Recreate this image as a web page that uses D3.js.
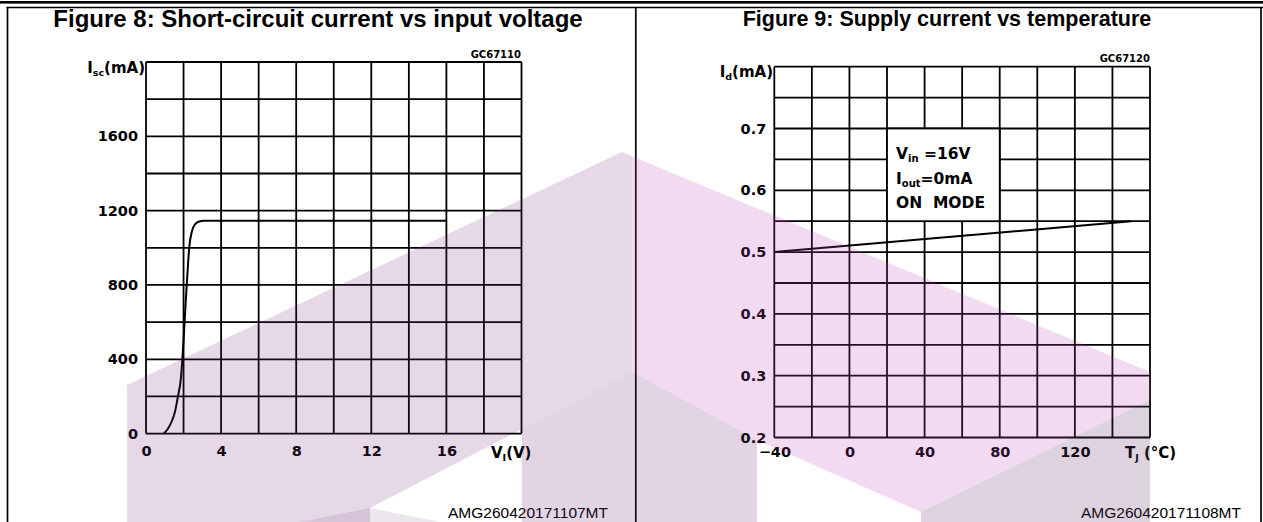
<!DOCTYPE html>
<html><head><meta charset="utf-8">
<script src="https://cdn.jsdelivr.net/npm/d3@7"></script>
<style>
html,body{margin:0;padding:0;background:#fff;}
svg{display:block;}
</style></head><body>
<svg id="c" width="1263" height="522"></svg>
<script>
// ---------- data ----------
const fig8Title = "Figure 8: Short-circuit current vs input voltage";
const fig9Title = "Figure 9: Supply current vs temperature";
const fig8Code = "GC67110";
const fig9Code = "GC67120";
const fig8Ref = "AMG260420171107MT";
const fig9Ref = "AMG260420171108MT";
const fig8XTicks = [0, 4, 8, 12, 16];
const fig8YTicks = [0, 400, 800, 1200, 1600];
const fig8Voltage = [0.95, 1.3, 1.55, 1.7, 1.85, 2.0, 2.12, 2.2, 2.3, 2.45, 2.6, 2.8, 3.1, 16];
const fig8Current = [0, 50, 120, 200, 290, 500, 718, 850, 1000, 1090, 1125, 1140, 1145, 1145];
const fig9XTicks = [-40, 0, 40, 80, 120];
const fig9YTicks = [0.2, 0.3, 0.4, 0.5, 0.6, 0.7];
const fig9Temp = [-40, 150];
const fig9Current = [0.5, 0.55];
const fig9Notes = ["Vin =16V", "Iout=0mA", "ON  MODE"];

const svg = d3.select("#c");
const INK = "#000";
const TICKFONT = "'DejaVu Sans', sans-serif";
const TICKSIZE = 14.5;

function subLabel(sel, main, sub, rest, subSize) {
  sel.append("tspan").text(main);
  sel.append("tspan").attr("font-size", subSize).attr("dy", 3).text(sub);
  sel.append("tspan").attr("dy", -3).text(rest);
}

function chart(cfg) {
  const g = svg.append("g");
  const x = d3.scaleLinear().domain(cfg.xDomain).range([cfg.x0, cfg.x1]);
  const y = d3.scaleLinear().domain(cfg.yDomain).range([cfg.y1, cfg.y0]);
  const gx = d3.range(cfg.xDomain[0], cfg.xDomain[1] + cfg.xStep / 2, cfg.xStep);
  const gy = d3.range(cfg.yDomain[0], cfg.yDomain[1] + cfg.yStep / 2, cfg.yStep);
  g.selectAll(".vx").data(gx).join("line")
    .attr("x1", d => x(d)).attr("x2", d => x(d))
    .attr("y1", y(cfg.yDomain[0])).attr("y2", y(cfg.yDomain[1]))
    .attr("stroke", INK).attr("stroke-width", 1.8);
  g.selectAll(".hy").data(gy).join("line")
    .attr("y1", d => y(d)).attr("y2", d => y(d))
    .attr("x1", x(cfg.xDomain[0])).attr("x2", x(cfg.xDomain[1]))
    .attr("stroke", INK).attr("stroke-width", 1.8);
  const yAxis = d3.axisLeft(y).tickValues(cfg.yTicks).tickSize(0).tickPadding(cfg.yPad)
    .tickFormat(cfg.yFmt);
  const ya = g.append("g").attr("transform", `translate(${cfg.x0},0)`).call(yAxis);
  ya.select(".domain").remove();
  ya.selectAll("text").attr("font-family", TICKFONT).attr("font-weight", "bold")
    .attr("font-size", TICKSIZE).attr("fill", INK);
  const xAxis = d3.axisBottom(x).tickValues(cfg.xTicks).tickSize(0).tickPadding(cfg.xPad)
    .tickFormat(cfg.xFmt);
  const xa = g.append("g").attr("transform", `translate(0,${cfg.y1})`).call(xAxis);
  xa.select(".domain").remove();
  xa.selectAll("text").attr("font-family", TICKFONT).attr("font-weight", "bold")
    .attr("font-size", TICKSIZE).attr("fill", INK);
  return {g, x, y};
}

// ---------- Figure 8 ----------
const c8 = chart({
  xDomain: [0, 20], yDomain: [0, 2000], xStep: 2, yStep: 200,
  x0: 146, x1: 521.5, y0: 62, y1: 433.6,
  xTicks: fig8XTicks, yTicks: fig8YTicks, yFmt: d3.format("d"), xFmt: d3.format("d"),
  xPad: 12, yPad: 8
});
const line8 = d3.line().x((d, i) => c8.x(fig8Voltage[i])).y(d => c8.y(d)).curve(d3.curveMonotoneX);
c8.g.append("path").attr("d", line8(fig8Current)).attr("fill", "none")
  .attr("stroke", INK).attr("stroke-width", 2);

// ---------- Figure 9 ----------
const c9 = chart({
  xDomain: [-40, 160], yDomain: [0.2, 0.8], xStep: 20, yStep: 0.05,
  x0: 774.3, x1: 1150, y0: 66.7, y1: 437.5,
  xTicks: fig9XTicks, yTicks: fig9YTicks, yFmt: d3.format(".1f"),
  xFmt: d => d < 0 ? "\u2212" + Math.abs(d) : d, xPad: 9, yPad: 8
});
c9.g.append("rect")
  .attr("x", c9.x(20)).attr("y", c9.y(0.7))
  .attr("width", c9.x(80) - c9.x(20)).attr("height", c9.y(0.55) - c9.y(0.7))
  .attr("fill", "#fff").attr("stroke", INK).attr("stroke-width", 1.8);
const noteG = c9.g.append("g").attr("font-family", TICKFONT).attr("font-weight", "bold")
  .attr("font-size", 15.5).attr("fill", INK);
const n1 = noteG.append("text").attr("x", c9.x(20) + 9).attr("y", 159);
subLabel(n1, "V", "in", " =16V", 10);
const n2 = noteG.append("text").attr("x", c9.x(20) + 9).attr("y", 184);
subLabel(n2, "I", "out", "=0mA", 10);
noteG.append("text").attr("x", c9.x(20) + 9).attr("y", 208).attr("xml:space", "preserve").text(fig9Notes[2]);

const line9 = d3.line().x((d, i) => c9.x(fig9Temp[i])).y(d => c9.y(d));
c9.g.append("path").attr("d", line9(fig9Current)).attr("fill", "none")
  .attr("stroke", INK).attr("stroke-width", 2);

// axis titles
const at = svg.append("g").attr("font-family", TICKFONT).attr("font-weight", "bold")
  .attr("font-size", 15).attr("fill", INK);
const t1 = at.append("text").attr("x", 145).attr("y", 73).attr("text-anchor", "end");
subLabel(t1, "I", "sc", "(mA)", 9.5);
const t2 = at.append("text").attr("x", 773).attr("y", 77).attr("text-anchor", "end");
subLabel(t2, "I", "d", "(mA)", 9.5);
const t3 = at.append("text").attr("x", 491).attr("y", 458);
subLabel(t3, "V", "I", "(V)", 9.5);
const t4 = at.append("text").attr("x", 1125).attr("y", 458).attr("xml:space", "preserve");
subLabel(t4, "T", "J", " (°C)", 9.5);

// codes
svg.append("text").attr("x", 521).attr("y", 58).attr("text-anchor", "end")
  .attr("font-family", TICKFONT).attr("font-weight", "bold").attr("font-size", 10).text(fig8Code);
svg.append("text").attr("x", 1150).attr("y", 62).attr("text-anchor", "end")
  .attr("font-family", TICKFONT).attr("font-weight", "bold").attr("font-size", 10).text(fig9Code);

// titles
svg.append("text").attr("x", 318).attr("y", 27).attr("text-anchor", "middle")
  .attr("font-family", "'Liberation Sans', Arial, sans-serif").attr("font-weight", "bold")
  .attr("font-size", 24).text(fig8Title);
svg.append("text").attr("x", 947).attr("y", 26).attr("text-anchor", "middle")
  .attr("font-family", "'Liberation Sans', Arial, sans-serif").attr("font-weight", "bold")
  .attr("font-size", 21.5).text(fig9Title);
// refs
svg.append("text").attr("x", 608).attr("y", 518).attr("text-anchor", "end")
  .attr("font-family", "'Liberation Sans', Arial, sans-serif").attr("font-size", 15.5).text(fig8Ref);
svg.append("text").attr("x", 1241).attr("y", 518).attr("text-anchor", "end")
  .attr("font-family", "'Liberation Sans', Arial, sans-serif").attr("font-size", 15.5).text(fig9Ref);

// frame
svg.append("rect").attr("x", 0).attr("y", 1).attr("width", 1263).attr("height", 2.6).attr("fill", INK);
svg.append("line").attr("x1", 6.5).attr("x2", 1263).attr("y1", 7.5).attr("y2", 7.5).attr("stroke", INK).attr("stroke-width", 1.7);
svg.append("line").attr("x1", 7.5).attr("x2", 7.5).attr("y1", 7).attr("y2", 522).attr("stroke", INK).attr("stroke-width", 1.7);
svg.append("line").attr("x1", 635.8).attr("x2", 635.8).attr("y1", 7).attr("y2", 522).attr("stroke", INK).attr("stroke-width", 1.7);
svg.append("line").attr("x1", 1261).attr("x2", 1261).attr("y1", 7).attr("y2", 522).attr("stroke", INK).attr("stroke-width", 1.7);

// watermark overlay (semi-transparent)
const wm = svg.append("g").attr("pointer-events", "none");
const shapes = [
  {fill: "rgba(116,38,122,0.18)", pts: [[127,385],[622,152],[632,157],[632,372],[370,508],[370,522],[127,522]]},
  {fill: "rgba(190,70,180,0.2)", pts: [[622,152],[1150,372],[1150,400],[921,512],[757,440],[632,372],[632,157]]},
  {fill: "rgba(105,45,115,0.2)", pts: [[522,429],[632,372],[757,440],[757,522],[522,522]]},
  {fill: "rgba(100,55,110,0.22)", pts: [[921,512],[1150,400],[1150,522],[921,522]]},
  {fill: "rgba(90,60,100,0.12)", pts: [[370,508],[440,522],[300,522]]}
];
wm.selectAll("polygon").data(shapes).join("polygon")
  .attr("points", d => d.pts.map(p => p.join(",")).join(" "))
  .attr("fill", d => d.fill);
</script>
</body></html>
